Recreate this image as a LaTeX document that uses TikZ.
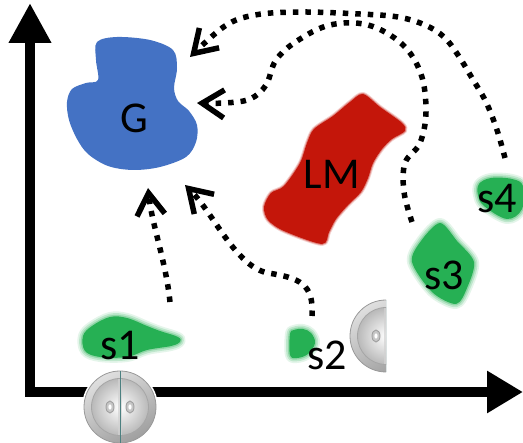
\documentclass[tikz,border=0pt]{standalone}
\usepackage{fontspec}
\setmainfont{Carlito}
\usetikzlibrary{arrows.meta}
\definecolor{gblue}{RGB}{68,114,196}
\definecolor{lmred}{RGB}{196,22,10}
\definecolor{sgreen}{RGB}{38,176,84}
\begin{document}
\begin{tikzpicture}[x=1pt,y=-1pt,
  lbl/.style={font=\fontsize{44}{44}\selectfont, inner sep=0pt, text=black},
  soft/.style={preaction={draw=#1, line width=10pt, draw opacity=0.12, line join=round},
               preaction={draw=#1, line width=6.5pt, draw opacity=0.2, line join=round},
               preaction={draw=#1, line width=3pt, draw opacity=0.3, line join=round},
               fill=#1},
  softer/.style={preaction={draw=#1, line width=4pt, draw opacity=0.2, line join=round},
               preaction={draw=#1, line width=2pt, draw opacity=0.4, line join=round},
               fill=#1},
  flow/.style={line width=5.5pt, dash pattern=on 5.5pt off 7pt,
               -{Straight Barb[length=22pt,width=28pt,line width=5.5pt]}},
  axis/.style={line width=10pt, line join=miter,
               {Triangle[length=40pt,width=40pt]}-{Triangle[length=36pt,width=40pt]}},
  embryo/.pic={
    % outer shell
    \shade[top color=gray!25, bottom color=gray!75, shading angle=30] (0,0) circle (36);
    \draw[gray!80, line width=0.8pt] (0,0) circle (36);
    % inner body
    \shade[inner color=white, outer color=gray!55] (0,0) circle (28.5);
    \draw[gray!70, line width=0.8pt] (0,0) circle (28.5);
    % cleavage furrow
    \draw[gray!35, line width=4pt, draw opacity=0.7] (0,-28) -- (0,28);
    \draw[teal!40!gray, line width=0.8pt] (0,-36) -- (0,36);
    % nuclei
    \foreach \nx in {-10,10} {
      \draw[gray!75, fill=gray!45, line width=0.9pt] (\nx,0) ellipse (4 and 6);
      \fill[white] (\nx,0) ellipse (1.6 and 2.6);
    }
  },
]
\fill[white] (0,0) rectangle (523,443);
\useasboundingbox (0,0) rectangle (523,443);

% axes
\draw[axis] (30,3) -- (30,392) -- (523,392);

% goal region G
\fill[gblue] plot[smooth cycle, tension=0.55] coordinates {(97,42) (117,37) (150,40) (173,50) (177,68) (174,88) (178,101) (189,111) (197,125) (196,142) (186,157) (160,167) (133,170) (108,166) (88,154) (77,139) (69,120) (67,102) (72,89) (86,83) (98,80) (96,60)};
\node[lbl] (G) at (134,118) {G};

% landmark LM
\path[softer=lmred] plot[smooth cycle, tension=0.5] coordinates {(363,94) (380,107) (402,123) (405,131) (392,139) (382,149) (373,163) (368,178) (361,192) (348,205) (336,219) (329,232) (322,244) (284,231) (268,220) (264,207) (271,193) (284,186) (300,163) (307,143) (314,129) (333,116) (350,102)};
\node[lbl] (LM) at (332,174) {LM};

% start regions
\path[soft=sgreen] plot[smooth cycle, tension=0.6] coordinates {(83,336) (92,326) (110,317) (127,318) (147,326) (160,331) (178,337) (180,342) (171,346) (147,350) (127,357) (100,357) (85,351)};
\node[lbl] (s1) at (120,346) {s1};

\path[soft=sgreen] plot[smooth cycle, tension=0.6] coordinates {(290,334) (294,330) (303,329) (311,333) (315,343) (308,354) (297,358) (290,355)};
\node[lbl] (s2) at (327,355) {s2};

\path[soft=sgreen] plot[smooth cycle, tension=0.5] coordinates {(440,223) (457,241) (474,262) (467,288) (456,304) (432,292) (412,262) (421,241)};
\node[lbl] (s3) at (444,275) {s3};

\path[soft=sgreen] plot[smooth cycle, tension=0.6] coordinates {(479,184) (491,178) (512,179) (523,186) (522,209) (507,219) (484,206) (478,195)};
\node[lbl] (s4) at (497,199) {s4};

% cells
\fill[white] (120,407) circle (38);
\pic at (120,407) {embryo};
\begin{scope}
  \clip (340,290) rectangle (386,380);
  \pic at (386,336) {embryo};
\end{scope}

% dotted paths towards G
\coordinate (s1out) at (170,302);
\coordinate (gA) at (148,188);
\coordinate (s2out) at (312,316);
\coordinate (gB) at (185,185);
\coordinate (s3out) at (412,222);
\coordinate (gC) at (197,103);
\coordinate (s4out) at (505,158);
\coordinate (gD) at (190,57);

\draw[flow] (s1out) .. controls (166,262) and (152,225) .. (gA);
\draw[flow] (s2out) .. controls (314,284) and (300,278) .. (268,273)
                    .. controls (236,267) and (214,214) .. (gB);
\draw[flow] plot[smooth, tension=0.6] coordinates {(s3out) (404,192) (405,163) (420,143) (426,112) (421,74) (402,44) (368,25) (330,25) (297,41) (276,60) (266,85) (250,99) (225,103) (gC)};
\draw[flow] plot[smooth, tension=0.6] coordinates {(s4out) (497,130) (486,102) (472,78) (458,55) (444,37) (425,25) (398,17) (360,14) (300,12) (255,15) (225,26) (gD)};
\end{tikzpicture}
\end{document}
